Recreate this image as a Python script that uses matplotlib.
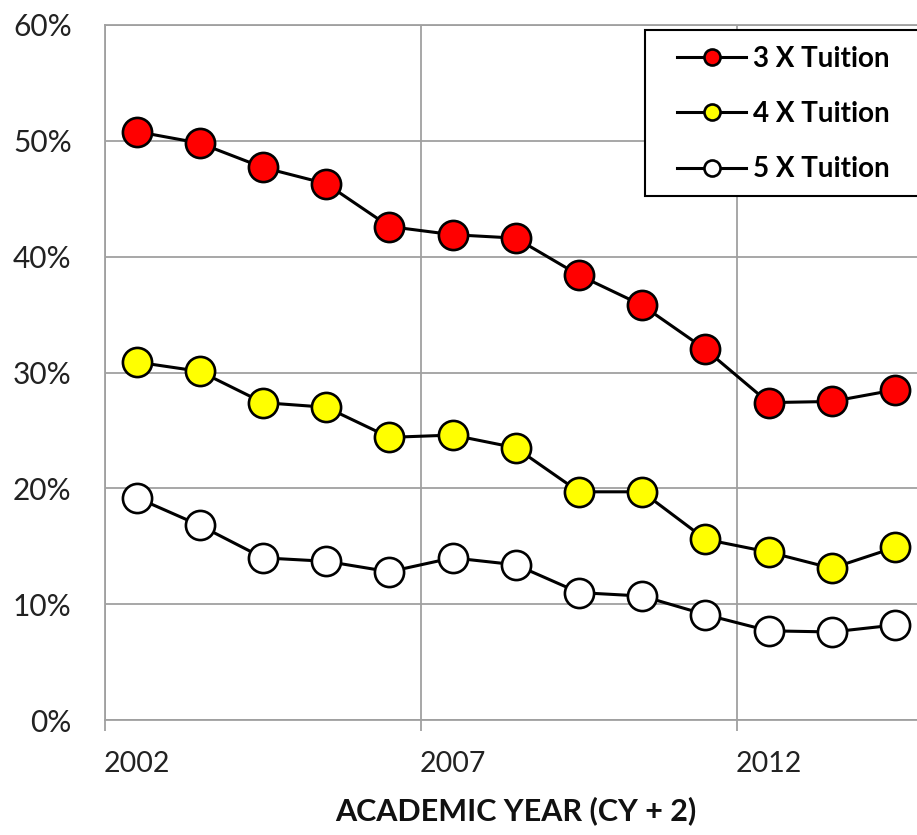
import numpy as np
import matplotlib
matplotlib.use('Agg')
import matplotlib.pyplot as plt
from matplotlib.patches import Rectangle
from matplotlib.ticker import FixedLocator, FuncFormatter

plt.rcParams['font.family'] = ['Lato', 'DejaVu Sans']

years = [2002, 2003, 2004, 2005, 2006, 2007, 2008, 2009, 2010, 2011, 2012, 2013, 2014]
tuition3 = [50.8, 49.8, 47.7, 46.3, 42.6, 41.9, 41.6, 38.4, 35.8, 32.0, 27.4, 27.5, 28.5]
tuition4 = [30.9, 30.1, 27.4, 27.0, 24.4, 24.6, 23.5, 19.7, 19.7, 15.6, 14.5, 13.1, 14.9]
tuition5 = [19.2, 16.8, 14.0, 13.7, 12.8, 14.0, 13.4, 11.0, 10.7, 9.1, 7.7, 7.6, 8.2]
labels = ['3 X Tuition', '4 X Tuition', '5 X Tuition']
colors = ['#ff0000', '#ffff00', '#ffffff']

W, H = 917, 835
fig = plt.figure(figsize=(W/100, H/100), dpi=100)
ax = fig.add_axes([105/W, 1-720/H, (926.6-105)/W, (720-25)/H])

x = np.arange(len(years))
for vals, lab, c in zip([tuition3, tuition4, tuition5], labels, colors):
    ax.plot(x, vals, color='black', lw=2.2, marker='o', markersize=21,
            markerfacecolor=c, markeredgecolor='black', markeredgewidth=1.9,
            label=lab, zorder=3, clip_on=False)

ax.set_xlim(-0.5, len(years)-0.5)
ax.set_ylim(0, 60)

# gridlines at category boundaries, labels on categories
ax.xaxis.set_major_locator(FixedLocator([-0.5, 4.5, 9.5]))
ax.xaxis.set_major_formatter(FuncFormatter(lambda v, p: ''))
ax.xaxis.set_minor_locator(FixedLocator([0, 5, 10]))
ax.xaxis.set_minor_formatter(FuncFormatter(lambda v, p: str(years[int(round(v))])))
ax.tick_params(axis='x', which='major', length=8, width=1.3, color='#a0a0a0', direction='out')
ax.tick_params(axis='x', which='minor', length=0, pad=22, labelsize=20.5, labelcolor='#222222')

ax.set_yticks(np.arange(0, 61, 10))
ax.set_yticklabels([f'{v}%' for v in range(0, 61, 10)])
ax.tick_params(axis='y', length=0, pad=24, labelsize=21.5, labelcolor='#222222')

ax.grid(True, which='major', color='#a0a0a0', lw=1.3)
ax.set_axisbelow(True)
for s in ax.spines.values():
    s.set_color('#a0a0a0')
    s.set_linewidth(1.3)

ax.set_xlabel('ACADEMIC YEAR (CY + 2)', fontsize=22, fontweight='bold', labelpad=14, color='#111111')

# legend box runs off the right edge, like the original
box = Rectangle((645/W, 1-196/H), (980-645)/W, (196-30)/H, transform=fig.transFigure,
                facecolor='white', edgecolor='black', lw=1.5, zorder=4.5, clip_on=False)
ax.add_patch(box)
leg = ax.legend(loc='upper left', bbox_to_anchor=(677/W, 1-46/H), bbox_transform=fig.transFigure,
                frameon=False, prop={'size': 20, 'weight': 'bold'}, markerscale=0.55,
                handlelength=2.5, handletextpad=0.25, labelspacing=1.05,
                borderpad=0, borderaxespad=0)
leg.set_zorder(5)

fig.savefig('out.png', dpi=100)
